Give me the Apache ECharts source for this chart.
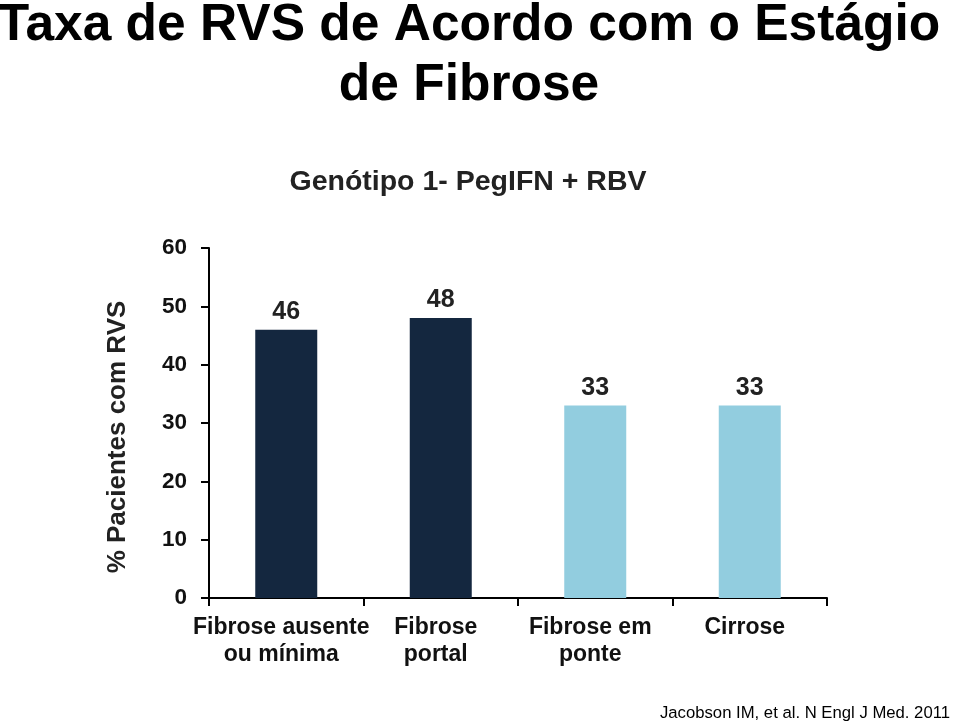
<!DOCTYPE html>
<html>
<head>
<meta charset="utf-8">
<script src="https://cdn.jsdelivr.net/npm/echarts@6/dist/echarts.min.js"></script>
<style>html,body{margin:0;padding:0;background:#fff}#c{width:959px;height:723px}</style>
</head>
<body>
<div id="c"></div>
<script>
const categories = ['Fibrose ausente\nou mínima', 'Fibrose\nportal', 'Fibrose em\nponte', 'Cirrose'];
const values = [46, 48, 33, 33];
const barColors = ['#14273f', '#14273f', '#92cddf', '#92cddf'];
const yTicks = [0, 10, 20, 30, 40, 50, 60];

const chart = echarts.init(document.getElementById('c'));
chart.setOption({
  animation: false,
  title: [
    { text: 'Taxa de RVS de Acordo com o Estágio\nde Fibrose', left: 469, textAlign: 'center', top: -4, padding: 0,
      textStyle: { fontFamily: 'Liberation Sans', fontWeight: 'bold', fontSize: 51.5, lineHeight: 60, color: '#000' } },
    { text: 'Genótipo 1- PegIFN + RBV', left: 468, textAlign: 'center', top: 168, padding: 0,
      textStyle: { fontFamily: 'Liberation Sans', fontWeight: 'bold', fontSize: 28.5, color: '#222' } },
    { text: 'Jacobson IM, et al. N Engl J Med. 2011', right: 9, top: 705, padding: 0,
      textStyle: { fontFamily: 'Liberation Sans', fontWeight: 'normal', fontSize: 16.7, color: '#000' } }
  ],
  graphic: [{
    type: 'text', x: 118, y: 437, rotation: Math.PI / 2,
    style: { text: '% Pacientes com RVS', fontFamily: 'Liberation Sans', fontWeight: 'bold', fontSize: 26,
      fill: '#222', align: 'center', verticalAlign: 'middle' }
  }],
  grid: { left: 209, right: 132, top: 248, bottom: 125 },
  xAxis: {
    type: 'category',
    data: categories,
    axisLine: { lineStyle: { color: '#000', width: 2 } },
    axisTick: { show: true, length: 8, lineStyle: { color: '#000', width: 2 } },
    axisLabel: { interval: 0, fontFamily: 'Liberation Sans', fontWeight: 'bold', fontSize: 23, color: '#111',
      lineHeight: 27, margin: 16, padding: [0, 10, 0, 0] }
  },
  yAxis: {
    type: 'value', min: 0, max: 60, interval: 10,
    axisLine: { show: true, lineStyle: { color: '#000', width: 2 } },
    axisTick: { show: true, length: 8, lineStyle: { color: '#000', width: 2 } },
    splitLine: { show: false },
    axisLabel: { fontFamily: 'Liberation Sans', fontWeight: 'bold', fontSize: 22.5, color: '#111', margin: 22,
      formatter: v => yTicks.includes(v) ? String(v) : '' }
  },
  series: [{
    type: 'bar',
    barWidth: 62,
    data: values.map((v, i) => ({ value: v, itemStyle: { color: barColors[i] } })),
    label: { show: true, position: 'top', distance: 5, fontFamily: 'Liberation Sans', fontWeight: 'bold', fontSize: 25, color: '#222' }
  }]
});
</script>
</body>
</html>
